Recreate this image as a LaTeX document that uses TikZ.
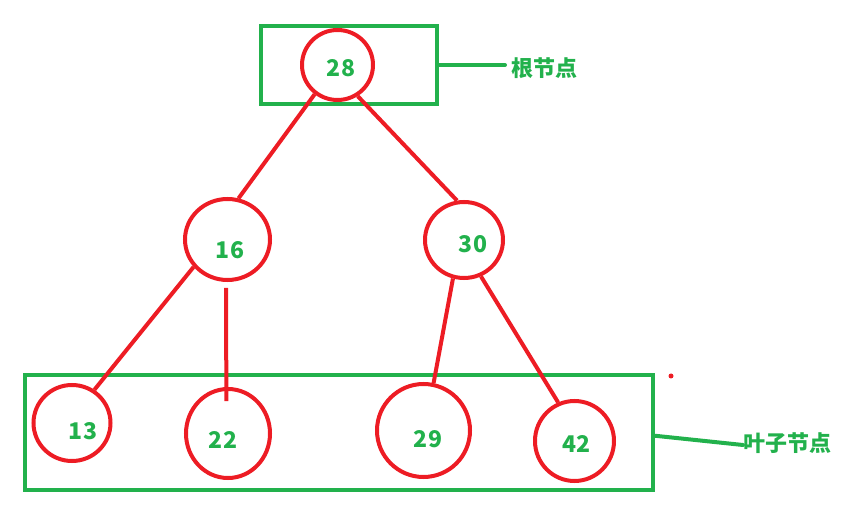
\documentclass[tikz,border=0pt]{standalone}
\usepackage{fontspec}
\setmainfont{Noto Sans CJK SC}
\usepackage{tikz}
\usetikzlibrary{shapes.geometric}

\definecolor{pgreen}{HTML}{22B14C}
\definecolor{pred}{HTML}{ED1C24}

\begin{document}
\begin{tikzpicture}[
  x=1pt, y=-1pt,
  knot/.style={ellipse, draw=pred, line width=4pt, inner sep=0pt},
  num/.style={text=pgreen, font=\fontsize{23}{26}\selectfont\bfseries, inner sep=0pt},
  gbox/.style={rectangle, draw=pgreen, line width=4pt, inner sep=0pt},
  lbl/.style={text=pgreen, font=\fontsize{22}{26}\selectfont\bfseries, inner sep=0pt, anchor=west},
  edge/.style={pred, line width=4pt},
  glink/.style={pgreen, line width=4pt, line cap=round}
]
\useasboundingbox (0,0) rectangle (846,526);

%% ---- BOXES ----
\node[gbox, minimum width=176, minimum height=78]    at (349,65)     (rootbox) {};
\node[gbox, minimum width=628, minimum height=114.5] at (339,432.75) (leafbox) {};

%% ---- TREE NODES ----
\node[knot, minimum width=71, minimum height=70] at (337.5,65)    (n28) {};
\node[knot, minimum width=85, minimum height=81] at (227.5,239.5) (n16) {};
\node[knot, minimum width=78, minimum height=76] at (464,240)     (n30) {};
\node[knot, minimum width=77, minimum height=76] at (72,423)      (n13) {};
\node[knot, minimum width=84, minimum height=89] at (228,433.5)   (n22) {};
\node[knot, minimum width=93, minimum height=93] at (423.5,430.5) (n29) {};
\node[knot, minimum width=79, minimum height=80] at (574.5,441)   (n42) {};

%% ---- NUMBERS ----
\node[num] at (341,68)  (t28) {28};
\node[num] at (230,250) (t16) {16};
\node[num] at (473,244) (t30) {30};
\node[num] at (83,431)  (t13) {13};
\node[num] at (223,440) (t22) {22};
\node[num] at (428,439) (t29) {29};
\node[num] at (576,444) (t42) {42};

%% ---- EDGES ----
\draw[edge] (n28.232) -- (n16.75);
\draw[edge] (n28.303) -- (n30.100);
\draw[edge] (n16.219) -- (n13.56);
\draw[edge] ([yshift=-6pt]n16.268) -- ([yshift=-14pt]n22.92);
\draw[edge] (n30.254) -- (n29.78);
\draw[edge] (n30.295) -- (n42.113);

%% ---- Labels ----
\node[lbl] at (511,68)  (rootlbl) {根节点};
\node[lbl] at (743,443) (leaflbl) {叶子节点};
\draw[glink] (rootbox.east) -- ([xshift=-6pt]rootlbl.west |- rootbox.east);
\draw[glink] ([yshift=-3pt]leafbox.east) -- ([yshift=-2pt]leaflbl.west);

\node[circle, fill=pred, inner sep=0pt, minimum size=5] at (671,376) (dot) {};
\end{tikzpicture}
\end{document}
